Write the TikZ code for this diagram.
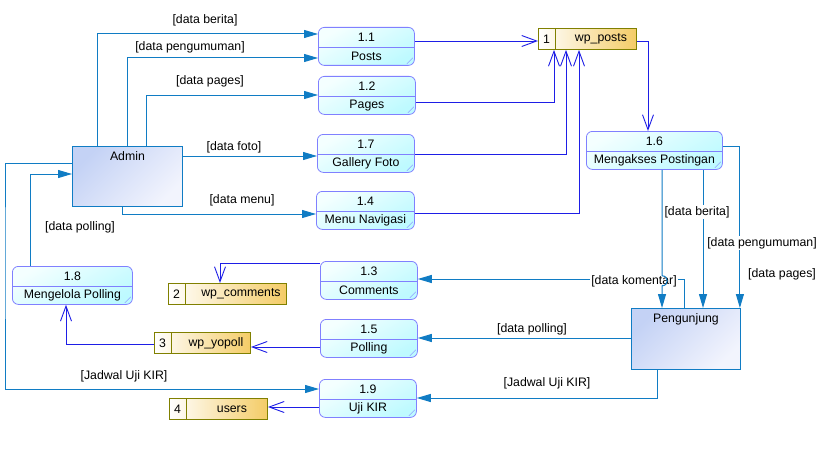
\documentclass[tikz,border=0pt]{standalone}
\usepackage{fontspec}
\setmainfont{Liberation Sans}
\usetikzlibrary{calc,arrows.meta}
\definecolor{ecol}{RGB}{16,124,196}
\definecolor{scol}{RGB}{30,30,230}
\definecolor{pborder}{RGB}{128,128,255}
\definecolor{ptop}{RGB}{244,255,255}
\definecolor{pbot}{RGB}{190,250,255}
\definecolor{etop}{RGB}{196,210,245}
\definecolor{ebot}{RGB}{242,244,253}
\definecolor{sborder}{RGB}{128,128,0}
\definecolor{sright}{RGB}{244,204,102}
\tikzset{
  txt/.style={font=\fontsize{12.3}{14}\selectfont, inner sep=1pt},
  lbl/.style={txt, fill=white},
  procbox/.style={draw=pborder, line width=0.8pt, rounded corners=6pt, minimum height=38pt, inner sep=0pt,
     top color=ptop, bottom color=pbot, shading angle=30},
  procedge/.style={draw=pborder, line width=0.8pt},
  entbox/.style={draw=ecol, line width=0.9pt, inner sep=0pt, top color=etop, bottom color=ebot, shading angle=45},
  storebox/.style={draw=sborder, line width=0.9pt, minimum height=21pt, inner sep=0pt, left color=white, right color=sright},
  storeedge/.style={draw=sborder, line width=0.9pt},
  eflow/.style={draw=ecol, line width=1pt, -{Triangle[length=14pt,width=8pt]}},
  sflow/.style={draw=scol, line width=0.9pt, -{Straight Barb[length=15pt,width=11pt]}},
}
\newcommand\proc[6]{%
  \node[procbox, minimum width=#4pt, anchor=north west] (#1) at (#2,#3) {};
  \draw[procedge] ($(#1.north west)+(0,20)$) -- ($(#1.north east)+(0,20)$);
  \node[txt] (#1-n) at ($(#1.north)+(0,10)$) {#5};
  \node[txt] (#1-l) at ($(#1.north)+(0,29.5)$) {#6};
  \draw[procedge, line width=0.5pt] ($(#1.south east)+(-2,-8)$) -- ($(#1.south east)+(-8,-2)$);
}
\newcommand\store[6]{%
  \node[storebox, minimum width=#4pt, anchor=north west] (#1) at (#2,#3) {};
  \draw[storeedge] ($(#1.north west)+(17,0)$) -- ($(#1.south west)+(17,0)$);
  \node[txt] (#1-n) at ($(#1.west)+(8.5,0)$) {#5};
  \node[txt] (#1-l) at ($(#1.center)+(13.5,0)$) {#6};
}
\begin{document}
\begin{tikzpicture}[x=1pt,y=-1pt]
\useasboundingbox (0,0) rectangle (822,452);
\fill[white] (0,0) rectangle (822,452);

% processes
\proc{p11}{318}{27}{96}{1.1}{Posts}
\proc{p12}{318}{76}{97}{1.2}{Pages}
\proc{p17}{317}{134}{97}{1.7}{Gallery Foto}
\proc{p14}{316}{191}{98}{1.4}{Menu Navigasi}
\proc{p16}{586}{131}{136}{1.6}{Mengakses Postingan}
\proc{p13}{320}{261}{97}{1.3}{Comments}
\proc{p15}{320}{319}{97}{1.5}{Polling}
\proc{p19}{319}{379}{97}{1.9}{Uji KIR}
\proc{p18}{12}{266}{120}{1.8}{Mengelola Polling}

% entities
\node[entbox, minimum width=110pt, minimum height=60pt, anchor=north west] (admin) at (72,146) {};
\node[txt] (admin-l) at ($(admin.north)+(0,10)$) {Admin};
\node[entbox, minimum width=109pt, minimum height=61pt, anchor=north west] (peng) at (631,308) {};
\node[txt] (peng-l) at ($(peng.north)+(0,11)$) {Pengunjung};

% data stores
\store{wpp}{538}{28}{98}{1}{wp\_posts}
\store{wpc}{168}{283}{118}{2}{wp\_comments}
\store{wpy}{154}{332}{96}{3}{wp\_yopoll}
\store{usr}{169}{398}{98}{4}{users}

% entity flows
\draw[eflow] ($(admin.north west)+(25,0)$) |- ($(p11.north west)+(0,7)$);
\draw[eflow] ($(admin.north west)+(55,0)$) |- ($(p11.north west)+(0,31)$);
\draw[eflow] ($(admin.north west)+(74,0)$) |- ($(p12.north west)+(0,19)$);
\draw[eflow] ($(admin.north east)+(0,10)$) -- ($(p17.north west)+(0,22)$);
\draw[eflow] ($(admin.south west)+(50,0)$) |- ($(p14.north west)+(0,23)$);
\draw[eflow] ($(p18.north west)+(18,0)$) |- ($(admin.north west)+(0,28)$);
\coordinate (jk) at (5,250);
\draw[eflow] ($(admin.north west)+(0,17)$) -| (jk) |- ($(p19.north west)+(0,10)$);

\draw[eflow] ($(peng.north west)+(53,0)$) |- ($(p13.north east)+(0,18)$);
\node[lbl] (l8) at (634,281) {[data komentar]};
\draw[eflow] ($(peng.north west)+(0,30)$) -- ($(p15.north east)+(0,19)$);
\draw[eflow] ($(peng.south west)+(26,0)$) |- ($(p19.north east)+(0,19)$);

\draw[eflow] ($(p16.south west)+(76,0)$) -- ++(0,106) .. controls +(7,0) and +(7,0) .. ++(0,10) -- ($(peng.north west)+(31,0)$);
\draw[eflow] ($(p16.south west)+(117,0)$) -- ($(peng.north west)+(72,0)$);
\draw[eflow] ($(p16.north east)+(0,15)$) -| ($(peng.north east)+(-1,0)$);

% store flows
\draw[sflow] ($(p11.north east)+(0,14)$) -- ($(wpp.north west)+(0,13)$);
\draw[sflow] ($(p12.north east)+(0,26)$) -| ($(wpp.south west)+(16,0)$);
\draw[sflow] ($(p17.north east)+(0,20)$) -| ($(wpp.south west)+(28,0)$);
\draw[sflow] ($(p14.north east)+(0,22)$) -| ($(wpp.south west)+(41,0)$);
\draw[sflow] ($(wpp.north east)+(0,13)$) -| ($(p16.north west)+(62,0)$);
\draw[sflow] ($(p13.north west)+(0,2)$) -| ($(wpc.north west)+(52,0)$);
\draw[sflow] ($(p15.north west)+(0,28)$) -- ($(wpy.north east)+(0,15)$);
\draw[sflow] ($(wpy.north west)+(0,12)$) -| ($(p18.south west)+(54,0)$);
\draw[sflow] ($(p19.north west)+(0,28)$) -- ($(usr.north east)+(0,9)$);

% labels
\node[lbl] (l1) at (205,20) {[data berita]};
\node[lbl] (l2) at (190,47) {[data pengumuman]};
\node[lbl] (l3) at (210,81) {[data pages]};
\node[lbl] (l4) at (234,147) {[data foto]};
\node[lbl] (l5) at (242,200) {[data menu]};
\node[lbl] (l6) at (80,227) {[data polling]};
\node[lbl] (l7) at (124,376) {[Jadwal Uji KIR]};
\node[lbl] (l9) at (532,329) {[data polling]};
\node[lbl] (l10) at (547,383) {[Jadwal Uji KIR]};
\node[lbl] (l11) at (697,212) {[data berita]};
\node[lbl] (l12) at (762,243) {[data pengumuman]};
\node[lbl] (l13) at (782,274) {[data pages]};
\end{tikzpicture}
\end{document}
